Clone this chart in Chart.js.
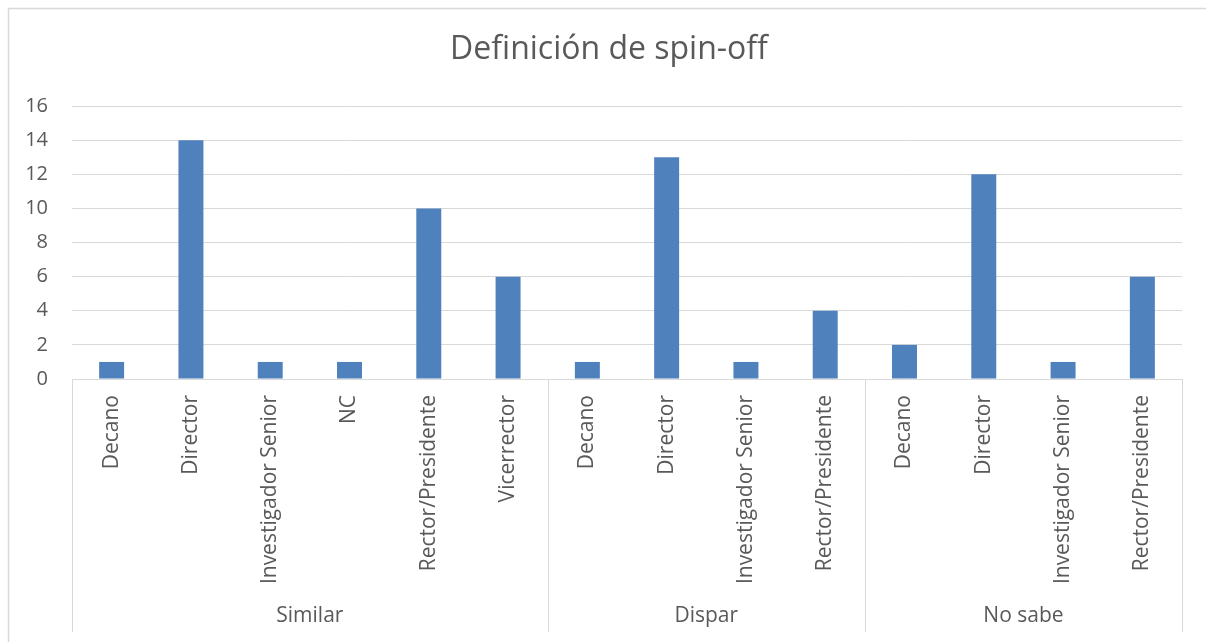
<!DOCTYPE html>
<html>
<head>
<meta charset="utf-8">
<script src="https://cdn.jsdelivr.net/npm/chart.js@4/dist/chart.umd.min.js"></script>
<style>
  html, body { margin: 0; padding: 0; background: #fff; }
  canvas { display: block; }
</style>
</head>
<body>
<canvas id="spinChart" width="1206" height="642"></canvas>
<script>
const title = 'Definición de spin-off'
const groups = ['Similar', 'Dispar', 'No sabe']
const similarRoles = ['Decano', 'Director', 'Investigador Senior', 'NC', 'Rector/Presidente', 'Vicerrector']
const similarValues = [1, 14, 1, 1, 10, 6]
const disparRoles = ['Decano', 'Director', 'Investigador Senior', 'Rector/Presidente']
const disparValues = [1, 13, 1, 4]
const noSabeRoles = ['Decano', 'Director', 'Investigador Senior', 'Rector/Presidente']
const noSabeValues = [2, 12, 1, 6]
const yTicks = [0, 2, 4, 6, 8, 10, 12, 14, 16]

const roleLists = [similarRoles, disparRoles, noSabeRoles]
const valueLists = [similarValues, disparValues, noSabeValues]

// flatten into one category axis, remember where each group starts
const labels = []
const values = []
const groupStart = []
roleLists.forEach((roles, g) => {
    groupStart.push(labels.length)
    roles.forEach((r, i) => {
        labels.push(r)
        values.push(valueLists[g][i])
    })
})

const textColor = '#595959'
const lineColor = '#d9d9d9'
const font = '"Open Sans", "Noto Sans", sans-serif'

const excelAxis = {
    id: 'excelAxis',
    afterDraw(chart) {
        const ctx = chart.ctx
        const x = chart.scales.x
        const area = chart.chartArea
        const half = (x.getPixelForValue(1) - x.getPixelForValue(0)) / 2
        const sepBottom = 632

        ctx.save()
        // outer chart border
        ctx.strokeStyle = lineColor
        ctx.lineWidth = 1.5
        ctx.beginPath()
        ctx.moveTo(8.5, 642)
        ctx.lineTo(8.5, 8.5)
        ctx.lineTo(1206, 8.5)
        ctx.stroke()

        // title
        ctx.fillStyle = textColor
        ctx.font = '32px ' + font
        ctx.textAlign = 'center'
        ctx.textBaseline = 'middle'
        ctx.fillText(title, 609, 50)

        // group separators
        ctx.lineWidth = 1
        const bounds = groupStart.map(i => x.getPixelForValue(i) - half)
        bounds.push(area.right)
        ctx.beginPath()
        bounds.forEach(b => {
            const px = Math.round(b) + 0.5
            ctx.moveTo(px, area.bottom)
            ctx.lineTo(px, sepBottom)
        })
        ctx.stroke()

        // rotated role labels
        ctx.font = '21px ' + font
        ctx.textAlign = 'right'
        ctx.textBaseline = 'middle'
        labels.forEach((lab, i) => {
            ctx.save()
            ctx.translate(x.getPixelForValue(i), area.bottom + 16)
            ctx.rotate(-Math.PI / 2)
            ctx.fillText(lab, 0, 0)
            ctx.restore()
        })

        // group labels
        ctx.textAlign = 'center'
        groups.forEach((g, k) => {
            ctx.fillText(g, (bounds[k] + bounds[k + 1]) / 2, 616)
        })
        ctx.restore()
    }
}

const ctx = document.getElementById('spinChart').getContext('2d')
new Chart(ctx, {
    type: 'bar',
    data: {
        labels: labels,
        datasets: [{
            data: values,
            backgroundColor: '#4f81bd',
            borderWidth: 0,
            barPercentage: 0.315,
            categoryPercentage: 1
        }]
    },
    options: {
        responsive: false,
        animation: false,
        layout: { padding: { left: 0, right: 24, top: 106, bottom: 0 } },
        plugins: {
            legend: { display: false },
            tooltip: { enabled: false }
        },
        scales: {
            x: {
                grid: { display: false },
                border: { display: false },
                ticks: { display: false },
                afterFit(scale) { scale.height = 263 }
            },
            y: {
                min: 0,
                max: 16,
                afterBuildTicks(scale) { scale.ticks = yTicks.map(v => ({ value: v })) },
                grid: { color: lineColor, drawTicks: false },
                border: { display: false },
                ticks: {
                    padding: 24,
                    color: textColor,
                    font: { family: font, size: 20 }
                },
                afterFit(scale) { scale.width = 72 }
            }
        }
    },
    plugins: [excelAxis]
})
</script>
</body>
</html>
